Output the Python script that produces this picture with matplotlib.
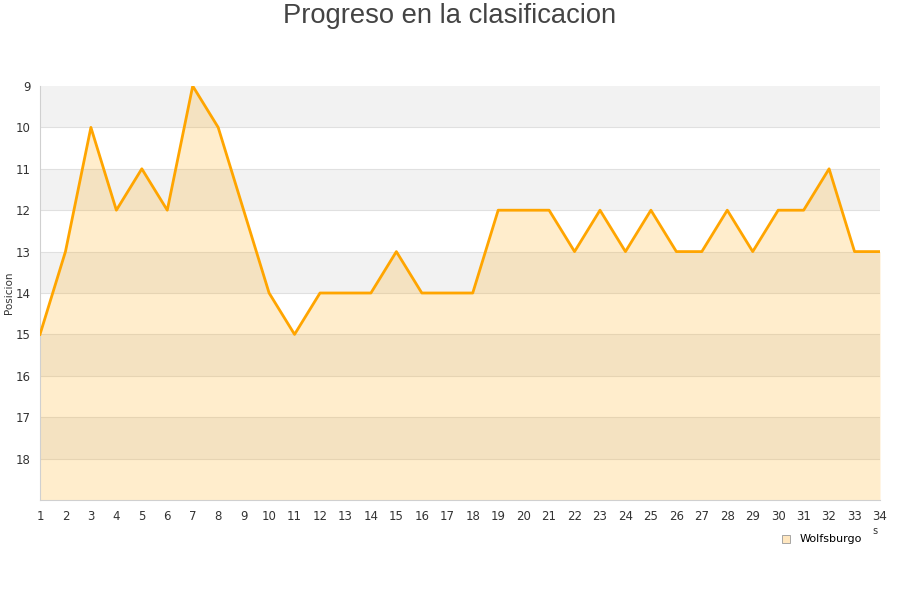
import matplotlib
matplotlib.use("Agg")
import matplotlib.pyplot as plt
from matplotlib.patches import Rectangle

jornadas = list(range(1, 35))
posiciones = [15, 13, 10, 12, 11, 12, 9, 10, 12, 14, 15, 14, 14, 14, 13, 14, 14, 14,
              12, 12, 12, 13, 12, 13, 12, 13, 13, 12, 13, 12, 12, 11, 13, 13]
equipo = "Wolfsburgo"
titulo = "Progreso en la clasificacion"
ylabel = "Posicion"

fig = plt.figure(figsize=(9, 6), dpi=100)
ax = fig.add_axes([40/900, 1-500/600, 840/900, 414/600])

ymin, ymax = 9, 19
for y in range(ymin, ymax):
    if (y - ymin) % 2 == 0:
        ax.axhspan(y, y + 1, color="#f2f2f2", zorder=0, lw=0)
for y in range(ymin + 1, ymax):
    ax.axhline(y, color="#e0e0e0", lw=0.8, zorder=1)

ax.fill_between(jornadas, posiciones, ymax, color="#ffa500", alpha=0.2, lw=0, zorder=2)
ax.plot(jornadas, posiciones, color="#ffa500", lw=2, zorder=3)

ax.set_xlim(1, 34)
ax.set_ylim(ymax, ymin)
ax.set_xticks(jornadas)
ax.set_yticks(range(9, 19))
ax.tick_params(axis="both", length=0, labelsize=8.5, colors="#333333", pad=7)
ax.tick_params(axis="y", pad=6.5)
for s in ["top", "right"]:
    ax.spines[s].set_visible(False)
for s in ["left", "bottom"]:
    ax.spines[s].set_color("#d0d0d0")

fig.text(9/900, 1-293/600, ylabel, rotation=90, ha="center", va="center",
         fontsize=7.5, color="#333333")

fig.text(0.5, 1-16/600, titulo, ha="center", va="center", fontsize=19.7,
         color="#444444", family="Liberation Sans")

fig.text(875/900, 1-531/600, "s", ha="center", va="center", fontsize=7, color="#333333")

fig.patches.append(Rectangle((782/900, 1-543/600), 8/900, 8/600, transform=fig.transFigure,
                             facecolor="#ffe7c0", edgecolor="#999999", lw=0.6))
fig.text(800/900, 1-539/600, equipo, ha="left", va="center", fontsize=8, color="#000000")

fig.savefig("out.png", dpi=100, facecolor="white")
